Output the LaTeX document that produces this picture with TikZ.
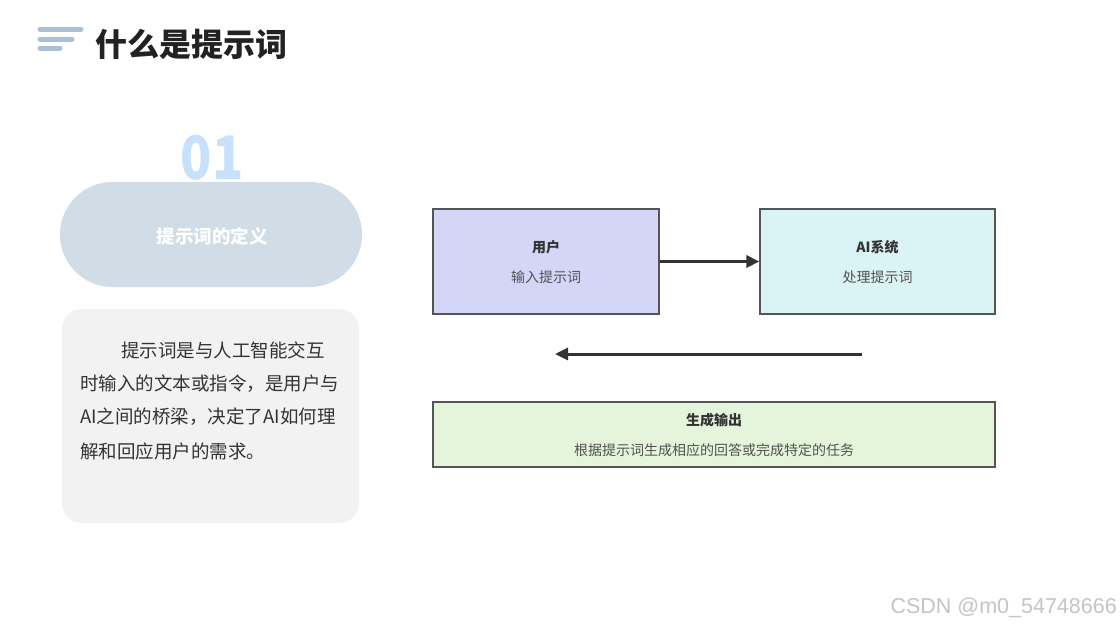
\documentclass[tikz,border=0pt]{standalone}
\usepackage{fontspec}
\setmainfont{Noto Sans CJK SC}
\newfontfamily\cjk{Noto Sans CJK SC}
\newfontfamily\wmfont{Liberation Sans}
\usetikzlibrary{arrows.meta}
\definecolor{iconblue}{HTML}{A9C0D6}
\definecolor{titlegray}{HTML}{222222}
\definecolor{numblue}{HTML}{C8E1FA}
\definecolor{pillfill}{HTML}{D0DDE6}
\definecolor{cardfill}{HTML}{F2F2F2}
\definecolor{bodytext}{HTML}{333333}
\definecolor{userfill}{HTML}{D4D6F7}
\definecolor{aifill}{HTML}{DAF3F4}
\definecolor{outfill}{HTML}{E4F5DC}
\definecolor{boxline}{HTML}{555555}
\definecolor{arrowdark}{HTML}{333333}
\definecolor{wmgray}{HTML}{C4C4C4}
\tikzset{
  iconline/.style={line width=5pt, line cap=round, draw=iconblue},
  flowbox/.style={draw=boxline, line width=1.2pt, minimum height=105pt},
  boxtitle/.style={font=\fontsize{14}{16}\selectfont\bfseries, text=bodytext},
  boxsub/.style={font=\fontsize{14}{16}\selectfont, text=bodytext!85},
  bodyline/.style={anchor=west, font=\fontsize{18.5}{20}\selectfont, text=bodytext, inner sep=0pt},
  flowarrow/.style={draw=arrowdark, line width=3pt, -{Triangle[length=13pt,width=12pt]}}
}
\begin{document}
\begin{tikzpicture}[x=1pt,y=-1pt]
\useasboundingbox (0,0) rectangle (1120,627);
\fill[white] (0,0) rectangle (1120,627);
% title icon
\coordinate (i1a) at (40,29); \coordinate (i1b) at (81,29);
\coordinate (i2a) at (40,39); \coordinate (i2b) at (72,39);
\coordinate (i3a) at (40,48); \coordinate (i3b) at (60,48);
\draw[iconline] (i1a) -- (i1b);
\draw[iconline] (i2a) -- (i2b);
\draw[iconline] (i3a) -- (i3b);
\node[anchor=west, inner sep=0pt, font=\fontsize{32}{34}\selectfont\bfseries, text=titlegray] (title) at (95,44) {什么是提示词};
% number
\node[inner sep=0pt, xscale=0.86, font=\fontsize{60}{60}\selectfont\bfseries, text=numblue] (num) at (212,158) {01};
% pill
\fill[pillfill, rounded corners=52.4pt] (60,182) rectangle (362,287);
\node[font=\fontsize{18.5}{20}\selectfont\bfseries, text=white] (pill) at (212,236) {提示词的定义};
% card
\fill[cardfill, rounded corners=20pt] (62,309) rectangle (359,523);
\node[bodyline] (l1) at (121,350) {提示词是与人工智能交互};
\node[bodyline] (l2) at (80,384) {时输入的文本或指令，是用户与};
\node[bodyline] (l3) at (80,417) {AI之间的桥梁，决定了AI如何理};
\node[bodyline] (l4) at (80,451) {解和回应用户的需求。};
% flow boxes
\node[flowbox, fill=userfill, minimum width=226pt] (user) at (546,261.5) {};
\node[boxtitle] (usert) at (546,247) {用户};
\node[boxsub] (users) at (546,277) {输入提示词};
\node[flowbox, fill=aifill, minimum width=235pt] (ai) at (877.5,261.5) {};
\node[boxtitle] (ait) at (877.5,247) {AI系统};
\node[boxsub] (ais) at (877.5,277) {处理提示词};
\node[flowbox, fill=outfill, minimum width=562pt, minimum height=65pt] (out) at (714,434.5) {};
\node[boxtitle] (outt) at (714,420) {生成输出};
\node[boxsub] (outs) at (714,450) {根据提示词生成相应的回答或完成特定的任务};
\draw[flowarrow] (user.east) -- (ai.west);
\coordinate (backstart) at (862,354);
\coordinate (backend) at (555,354);
\draw[flowarrow] (backstart) -- (backend);
% watermark
\node[anchor=east, inner sep=0pt, font=\wmfont\fontsize{21.5}{22}\selectfont, text=wmgray] (wm) at (1117,608) {CSDN @m0\_54748666};
\end{tikzpicture}
\end{document}
